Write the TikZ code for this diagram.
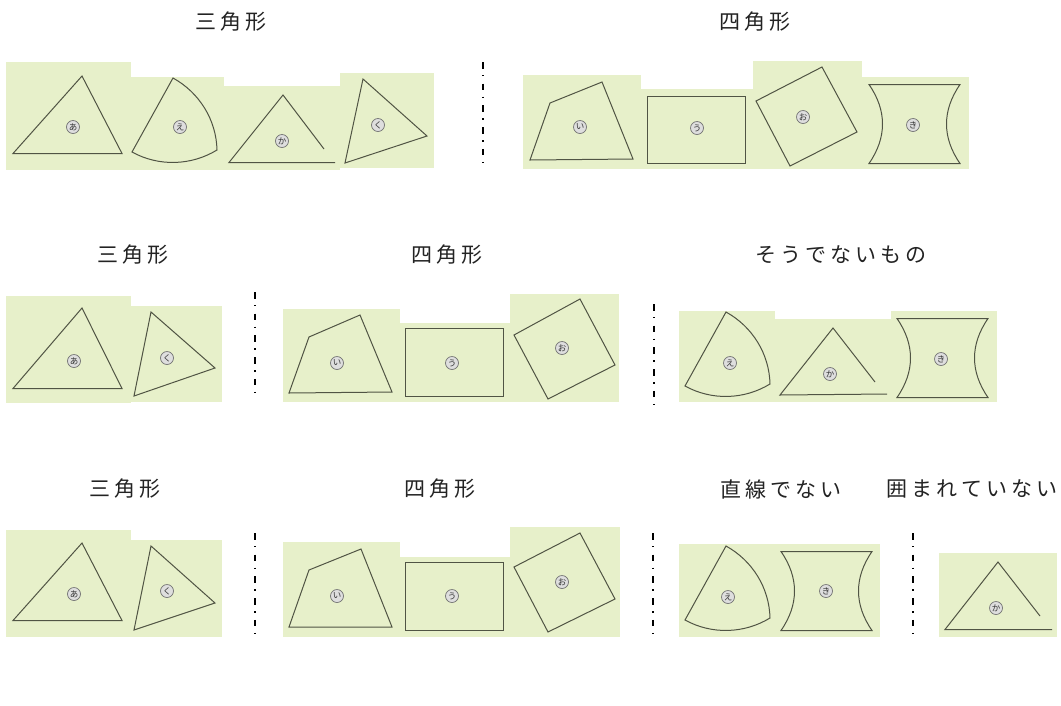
\documentclass[tikz,border=0pt]{standalone}
\usepackage{fontspec}
\newfontfamily\cjk{Noto Sans CJK JP}
\definecolor{paper}{RGB}{231,240,202}
\definecolor{ink}{RGB}{80,84,68}
\definecolor{txt}{RGB}{35,35,35}
\def\gobbleone#1{}
\def\spc#1{\spcA#1\relax}
\def\spcA#1{#1\futurelet\next\spcB}
\def\spcB{\ifx\next\relax\expandafter\gobbleone\else\kern4pt\expandafter\spcA\fi}
\newcommand\eshape[2]{\draw[shp,shift={(#1,#2)}] (0,0) -- (-41,74) .. controls (-14.4,88.7) and (18.1,87.8) .. (44,72) .. controls (43.3,41.8) and (26.4,14.6) .. cycle;}
\newcommand\kishape[2]{\draw[shp,shift={(#1,#2)}] (0,0) -- (91,0) .. controls (73,26) and (73,53) .. (91,79) -- (0,79) .. controls (18,53) and (18,26) .. cycle;}
\begin{document}
\begin{tikzpicture}[x=1pt,y=-1pt,
  bg/.style={fill=paper,draw=none},
  shp/.style={draw=ink,line width=1pt,line join=miter},
  lab/.style={circle,draw=black!55,fill=black!13,line width=0.7pt,inner sep=0pt,minimum size=13pt,font=\cjk\fontsize{8.5}{8.5}\selectfont,text=black!80},
  ttl/.style={font=\cjk\fontsize{21}{21}\selectfont,text=txt,inner sep=0pt},
  sep/.style={draw=black,line width=2.2pt,dash pattern=on 6.5pt off 6.5pt on 1.4pt off 7.3pt}]
\useasboundingbox (0,0) rectangle (1061,705);
\fill[white] (0,0) rectangle (1061,705);

% ---------- titles ----------
\node[ttl] (t1a) at (231,22) {\spc{三角形}};
\node[ttl] (t1b) at (755,22) {\spc{四角形}};
\node[ttl] (t2a) at (133,255) {\spc{三角形}};
\node[ttl] (t2b) at (447,255) {\spc{四角形}};
\node[ttl] (t2c) at (841,255) {\spc{そうでないもの}};
\node[ttl] (t3a) at (125,489) {\spc{三角形}};
\node[ttl] (t3b) at (440,489) {\spc{四角形}};
\node[ttl] (t3c) at (781,489) {\spc{直線でない}};
\node[ttl] (t3d) at (972,489) {\spc{囲まれていない}};

% ---------- row 1 ----------
\fill[bg] (6,62) rectangle (131,170);
\fill[bg] (131,77) rectangle (224,170);
\fill[bg] (224,86) rectangle (340,170);
\fill[bg] (340,73) rectangle (434,168);
\fill[bg] (523,75) rectangle (641,169);
\fill[bg] (641,89) rectangle (753,169);
\fill[bg] (753,61) rectangle (862,169);
\fill[bg] (862,77) rectangle (969,169);

\draw[shp] (82,76) -- (13,153.5) -- (122,153.5) -- cycle;
\eshape{173}{78}
\draw[shp] (324,149) -- (283,95) -- (229,162.5) -- (335,162.5);
\draw[shp] (363,79) -- (427,136) -- (345,163) -- cycle;
\draw[shp] (550,103) -- (602,82) -- (633,159) -- (530,160) -- cycle;
\draw[shp] (647.5,96.5) rectangle (745.5,163.5);
\draw[shp] (756,101) -- (822,67) -- (857,132) -- (790,166) -- cycle;
\kishape{869}{84.5}

\node[lab] (l1a) at (73,127) {あ};
\node[lab] (l1e) at (180,127) {え};
\node[lab] (l1k) at (282,141) {か};
\node[lab] (l1q) at (378,125) {く};
\node[lab] (l1i) at (580,127) {い};
\node[lab] (l1u) at (697,128) {う};
\node[lab] (l1o) at (803,117) {お};
\node[lab] (l1g) at (913,125) {き};

\coordinate (s1t) at (483,62); \coordinate (s1b) at (483,166);
\draw[sep] (s1t) -- (s1b);

% ---------- row 2 ----------
\fill[bg] (6,296) rectangle (131,403);
\fill[bg] (131,306) rectangle (222,402);
\fill[bg] (283,309) rectangle (400,402);
\fill[bg] (400,323) rectangle (510,402);
\fill[bg] (510,294) rectangle (619,402);
\fill[bg] (679,311) rectangle (775,402);
\fill[bg] (775,319) rectangle (891,402);
\fill[bg] (891,311) rectangle (997,402);

\draw[shp] (82,308) -- (13,388.5) -- (122,388.5) -- cycle;
\draw[shp] (151,312) -- (215,368) -- (134,396) -- cycle;
\draw[shp] (309,337) -- (360,315) -- (392,392) -- (289,393) -- cycle;
\draw[shp] (405.5,328.5) rectangle (503.5,396.5);
\draw[shp] (514,335) -- (580,299) -- (615,365) -- (548,399) -- cycle;
\eshape{726}{312}
\draw[shp] (875,382) -- (833,328) -- (780,395) -- (887,394);
\kishape{897}{318.5}

\node[lab] (l2a) at (74,361) {あ};
\node[lab] (l2q) at (167,358) {く};
\node[lab] (l2i) at (337,363) {い};
\node[lab] (l2u) at (452,363) {う};
\node[lab] (l2o) at (562,348) {お};
\node[lab] (l2e) at (730,363) {え};
\node[lab] (l2k) at (830,374) {か};
\node[lab] (l2g) at (941,359) {き};

\coordinate (s2at) at (255,292); \coordinate (s2ab) at (255,394);
\coordinate (s2bt) at (654,304); \coordinate (s2bb) at (654,407);
\draw[sep] (s2at) -- (s2ab);
\draw[sep] (s2bt) -- (s2bb);

% ---------- row 3 ----------
\fill[bg] (6,530) rectangle (131,637);
\fill[bg] (131,540) rectangle (222,637);
\fill[bg] (283,542) rectangle (400,637);
\fill[bg] (400,557) rectangle (510,637);
\fill[bg] (510,527) rectangle (620,637);
\fill[bg] (679,544) rectangle (775,637);
\fill[bg] (775,544) rectangle (880,637);
\fill[bg] (939,553) rectangle (1057,637);

\draw[shp] (82,543) -- (13,620.5) -- (122,620.5) -- cycle;
\draw[shp] (151,546) -- (215,603) -- (134,630) -- cycle;
\draw[shp] (309,570) -- (361,549) -- (392,627) -- (289,627) -- cycle;
\draw[shp] (405.5,562.5) rectangle (503.5,630.5);
\draw[shp] (514,567) -- (580,533) -- (615,599) -- (548,632) -- cycle;
\eshape{726}{546}
\kishape{781}{551.5}
\draw[shp] (1040,616) -- (998,562) -- (945,629.5) -- (1052,629.5);

\node[lab] (l3a) at (74,594) {あ};
\node[lab] (l3q) at (167,591) {く};
\node[lab] (l3i) at (337,596) {い};
\node[lab] (l3u) at (452,596) {う};
\node[lab] (l3o) at (562,582) {お};
\node[lab] (l3e) at (728,597) {え};
\node[lab] (l3g) at (826,591) {き};
\node[lab] (l3k) at (996,608) {か};

\coordinate (s3at) at (255,533); \coordinate (s3ab) at (255,633);
\coordinate (s3bt) at (653,533); \coordinate (s3bb) at (653,634);
\coordinate (s3ct) at (913,533); \coordinate (s3cb) at (913,634);
\draw[sep] (s3at) -- (s3ab);
\draw[sep] (s3bt) -- (s3bb);
\draw[sep] (s3ct) -- (s3cb);
\end{tikzpicture}
\end{document}
